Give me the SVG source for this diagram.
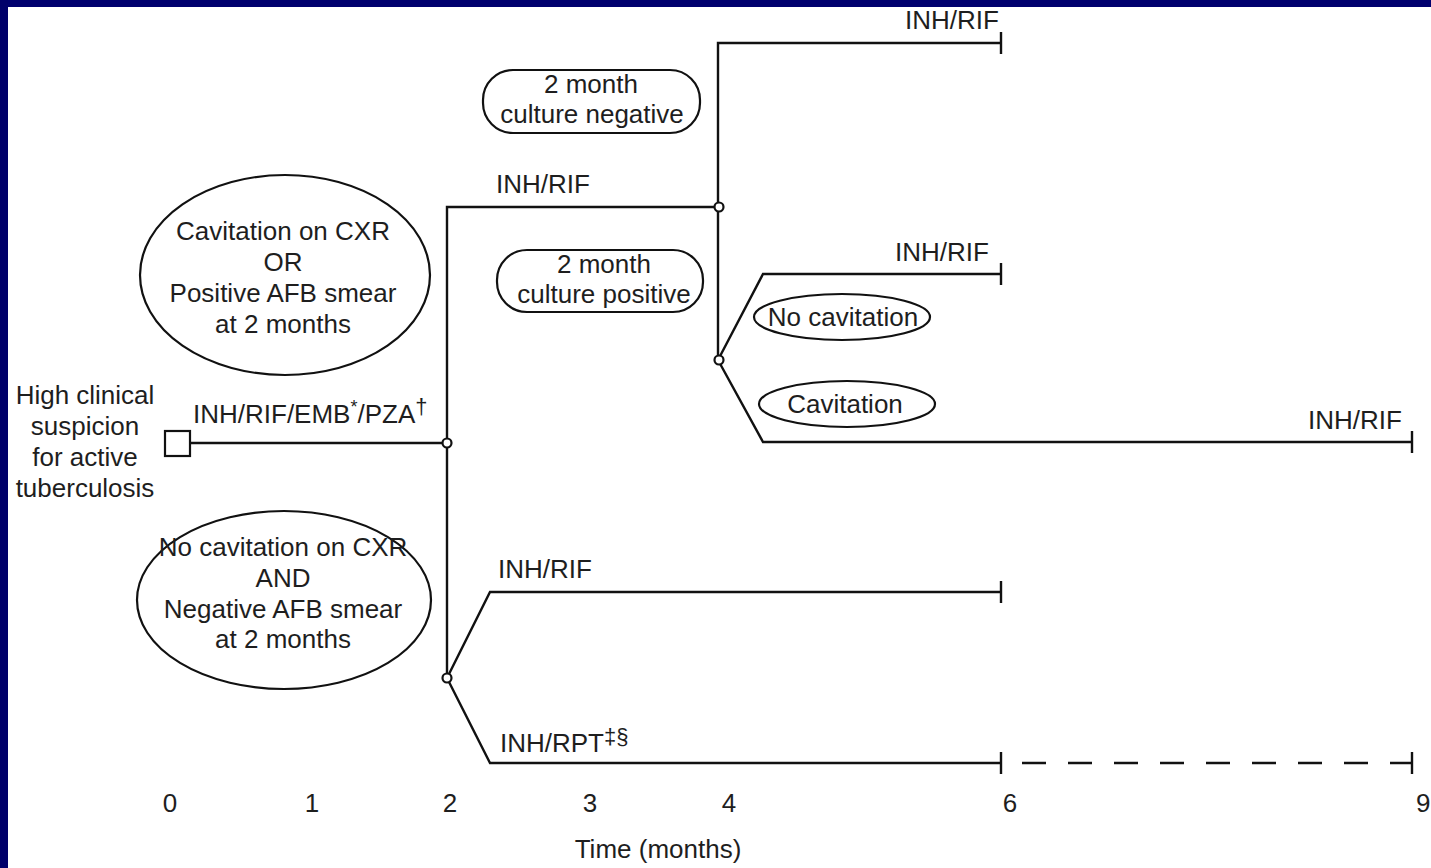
<svg xmlns="http://www.w3.org/2000/svg" width="1431" height="868" viewBox="0 0 1431 868">
<defs>
<style>
text{font-family:"Liberation Sans",Arial,sans-serif;font-size:26px;fill:#1e1e1e}
.c{text-anchor:middle}
.ln{fill:none;stroke:#111;stroke-width:2.4}
.dash{fill:none;stroke:#111;stroke-width:2.4;stroke-dasharray:24 22}
.sh{fill:#fff;stroke:#111;stroke-width:2.2}
.dot{fill:#fff;stroke:#111;stroke-width:2.2}
.sup{font-size:18px}
.sup2{font-size:22px}
</style>
</defs>
<rect x="0" y="0" width="1431" height="868" fill="#fff"/>
<rect x="0" y="0" width="1431" height="7" fill="#00006e"/>
<rect x="0" y="0" width="8" height="868" fill="#00006a"/>

<g id="connectors">
<polyline class="ln" points="190,443 447,443"/>
<polyline class="ln" points="447,678 447,207 718,207"/>
<polyline class="ln" points="718,360 718,43 1001,43"/>
<line class="ln" x1="1001" y1="32" x2="1001" y2="54"/>
<polyline class="ln" points="718,360 763,274 1001,274"/>
<line class="ln" x1="1001" y1="263" x2="1001" y2="285"/>
<polyline class="ln" points="718,360 763,442 1412,442"/>
<line class="ln" x1="1412" y1="431" x2="1412" y2="453"/>
<polyline class="ln" points="447,678 490,592 1001,592"/>
<line class="ln" x1="1001" y1="581" x2="1001" y2="603"/>
<polyline class="ln" points="447,678 490,763 1001,763"/>
<line class="ln" x1="1001" y1="752" x2="1001" y2="774"/>
<line class="dash" x1="1022" y1="763" x2="1412" y2="763"/>
<line class="ln" x1="1412" y1="752" x2="1412" y2="774"/>
<circle class="dot" cx="447" cy="443" r="4.5"/>
<circle class="dot" cx="719" cy="207" r="4.5"/>
<circle class="dot" cx="719" cy="360" r="4.5"/>
<circle class="dot" cx="447" cy="678" r="4.5"/>
</g>

<g id="labels">
<text x="193" y="423">INH/RIF/EMB<tspan class="sup" dy="-10">*</tspan><tspan dy="10">/PZA</tspan><tspan class="sup2" dy="-9">†</tspan></text>
<text x="496" y="193">INH/RIF</text>
<text x="905" y="29">INH/RIF</text>
<text x="895" y="261">INH/RIF</text>
<text x="1308" y="429">INH/RIF</text>
<text x="498" y="578">INH/RIF</text>
<text x="500" y="752">INH/RPT<tspan class="sup2" dy="-8">‡§</tspan></text>
</g>

<g id="start">
<rect class="sh" x="165" y="431" width="25" height="25"/>
<text class="c" x="85" y="404">High clinical</text>
<text class="c" x="85" y="435">suspicion</text>
<text class="c" x="85" y="466">for active</text>
<text class="c" x="85" y="497">tuberculosis</text>
</g>

<g id="cavitation-or-positive">
<ellipse class="sh" cx="285" cy="275" rx="145" ry="100"/>
<text class="c" x="283" y="240">Cavitation on CXR</text>
<text class="c" x="283" y="271">OR</text>
<text class="c" x="283" y="302">Positive AFB smear</text>
<text class="c" x="283" y="333">at 2 months</text>
</g>

<g id="no-cavitation-and-negative">
<ellipse class="sh" cx="284" cy="600" rx="147" ry="89"/>
<text class="c" x="283" y="556">No cavitation on CXR</text>
<text class="c" x="283" y="587">AND</text>
<text class="c" x="283" y="618">Negative AFB smear</text>
<text class="c" x="283" y="648">at 2 months</text>
</g>

<g id="culture-negative">
<rect class="sh" x="483" y="70" width="217" height="63" rx="30"/>
<text class="c" x="591" y="93">2 month</text>
<text class="c" x="592" y="123">culture negative</text>
</g>

<g id="culture-positive">
<rect class="sh" x="497" y="250" width="206" height="62" rx="30"/>
<text class="c" x="604" y="273">2 month</text>
<text class="c" x="604" y="303">culture positive</text>
</g>

<g id="no-cavitation">
<ellipse class="sh" cx="842" cy="317" rx="88" ry="23"/>
<text class="c" x="843" y="326">No cavitation</text>
</g>

<g id="cavitation">
<ellipse class="sh" cx="847" cy="404" rx="88" ry="23"/>
<text class="c" x="845" y="413">Cavitation</text>
</g>

<g id="axis">
<text class="c" x="170" y="812">0</text>
<text class="c" x="312" y="812">1</text>
<text class="c" x="450" y="812">2</text>
<text class="c" x="590" y="812">3</text>
<text class="c" x="729" y="812">4</text>
<text class="c" x="1010" y="812">6</text>
<text x="1416" y="812">9</text>
<text class="c" x="658" y="858">Time (months)</text>
</g>
</svg>
